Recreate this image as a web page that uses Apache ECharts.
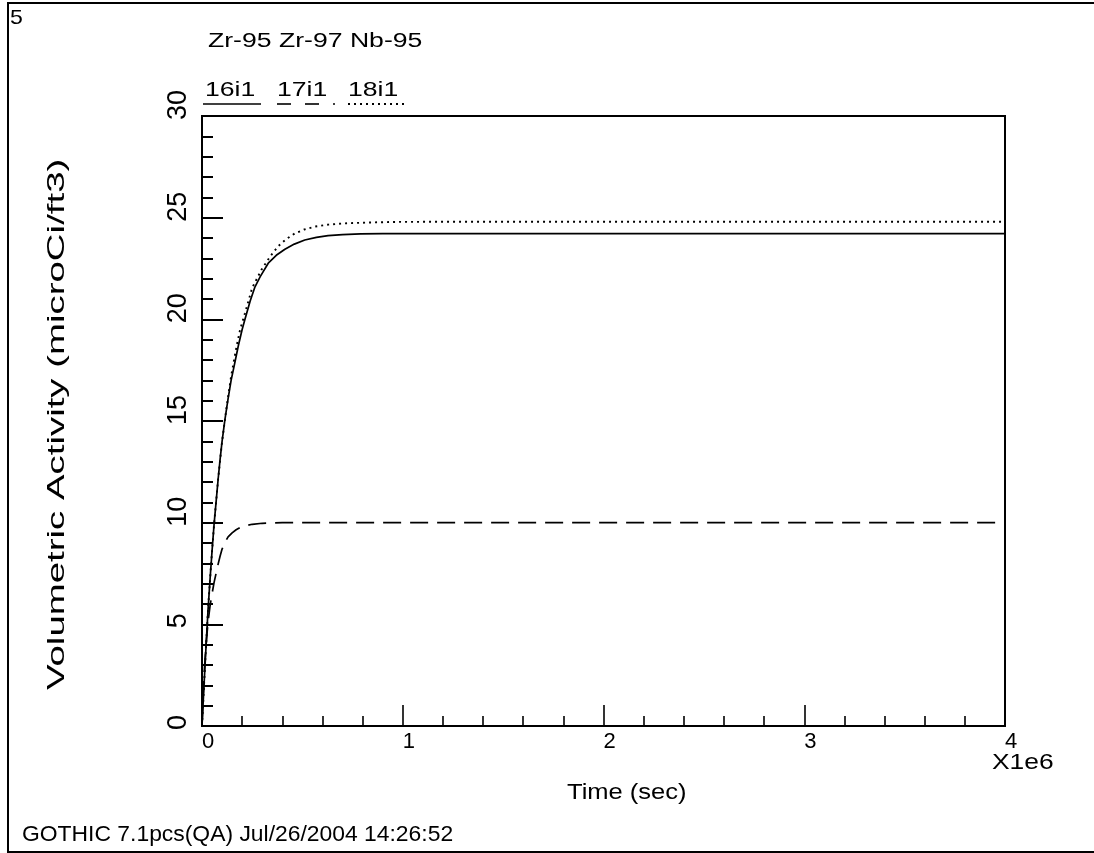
<!DOCTYPE html>
<html>
<head>
<meta charset="utf-8">
<script src="https://cdn.jsdelivr.net/npm/echarts@6/dist/echarts.min.js"></script>
<style>
  html, body { margin: 0; padding: 0; background: #fff; }
  #chart { width: 1094px; height: 853px; }
</style>
</head>
<body>
<div id="chart"></div>
<script>
// Volumetric activity of the three nuclide groups (time in units of 1e6 s, activity in microCi/ft3)
const t16 = [0, 0.01, 0.02, 0.03, 0.04, 0.05, 0.06, 0.07, 0.08, 0.09, 0.10, 0.114, 0.13, 0.145, 0.16, 0.181, 0.20, 0.214, 0.24, 0.264, 0.29, 0.33, 0.37, 0.413, 0.46, 0.512, 0.57, 0.628, 0.70, 0.79, 0.90, 1.0, 2.0, 3.0, 4.0];
const v16 = [0, 2.0, 3.9, 5.7, 7.2, 8.6, 9.9, 11.0, 12.1, 13.1, 14.0, 15.05, 16.1, 17.0, 17.7, 18.7, 19.5, 20.0, 20.9, 21.6, 22.1, 22.76, 23.15, 23.45, 23.7, 23.9, 24.03, 24.12, 24.17, 24.2, 24.22, 24.22, 24.22, 24.22, 24.22];

const t17 = [0, 0.005, 0.01, 0.02, 0.03, 0.04, 0.05, 0.06, 0.07, 0.08, 0.09, 0.10, 0.115, 0.13, 0.15, 0.17, 0.19, 0.214, 0.25, 0.30, 0.40, 1.0, 2.0, 3.0, 4.0];
const v17 = [0, 1.3, 2.5, 4.0, 5.1, 5.9, 6.5, 7.05, 7.5, 7.95, 8.35, 8.7, 9.05, 9.3, 9.5, 9.65, 9.76, 9.84, 9.92, 9.97, 10.0, 10.0, 10.0, 10.0, 10.0];

const t18 = [0, 0.01, 0.02, 0.03, 0.04, 0.05, 0.06, 0.08, 0.10, 0.12, 0.145, 0.172, 0.19, 0.214, 0.25, 0.297, 0.34, 0.38, 0.42, 0.463, 0.51, 0.562, 0.63, 0.71, 0.82, 0.96, 1.2, 2.0, 3.0, 4.0];
const v18 = [0, 2.0, 3.9, 5.7, 7.2, 8.6, 9.9, 12.1, 14.0, 15.5, 17.2, 18.66, 19.5, 20.3, 21.55, 22.45, 23.1, 23.6, 23.95, 24.23, 24.42, 24.56, 24.66, 24.72, 24.76, 24.79, 24.8, 24.8, 24.8, 24.8];

const seriesNames = ['16i1', '17i1', '18i1'];
const xTicks = [0, 1, 2, 3, 4];
const yTicks = [0, 5, 10, 15, 20, 25, 30];

const FONT = "'Liberation Sans', Arial, Helvetica, sans-serif";

function pairs(ts, vs) { return ts.map((t, i) => [t, vs[i]]); }

const chart = echarts.init(document.getElementById('chart'), null, { renderer: 'canvas' });

// wide plotter-style lettering: plain text stretched along its baseline
function txt(text, x, y, size, sx, extra) {
  return Object.assign({
    type: 'text', x: x, y: y, scaleX: sx, scaleY: 1,
    style: { text: text, fontFamily: FONT, fontSize: size, fill: '#000', align: 'left', verticalAlign: 'middle' }
  }, extra || {});
}

const option = {
  animation: false,
  backgroundColor: '#fff',
  grid: { left: 202, right: 89, top: 116, bottom: 127, show: true, borderColor: '#000', borderWidth: 2, backgroundColor: 'transparent' },
  xAxis: {
    type: 'value', min: xTicks[0], max: xTicks[xTicks.length - 1], interval: xTicks[1] - xTicks[0],
    axisLine: { lineStyle: { color: '#000', width: 2 } },
    axisTick: { inside: true, length: 21, lineStyle: { color: '#000', width: 1.6 } },
    minorTick: { show: true, splitNumber: 5, length: 10, lineStyle: { color: '#000', width: 1.6 } },
    splitLine: { show: false },
    axisLabel: { color: '#000', fontFamily: FONT, fontSize: 22, margin: 5, align: 'left' }
  },
  yAxis: {
    type: 'value', min: yTicks[0], max: yTicks[yTicks.length - 1], interval: yTicks[1] - yTicks[0],
    axisLine: { lineStyle: { color: '#000', width: 2 } },
    axisTick: { inside: true, length: 21, lineStyle: { color: '#000', width: 2 } },
    minorTick: { show: true, splitNumber: 5, length: 11, lineStyle: { color: '#000', width: 2 } },
    splitLine: { show: false },
    axisLabel: { color: '#000', fontFamily: FONT, fontSize: 27, margin: 10, rotate: 90, align: 'left', padding: [0, 0, 0, -4] }
  },
  series: [
    { name: seriesNames[0], type: 'line', data: pairs(t16, v16), showSymbol: false, smooth: false,
      lineStyle: { color: '#000', width: 1.7, type: 'solid' } },
    { name: seriesNames[1], type: 'line', data: pairs(t17, v17), showSymbol: false, smooth: false,
      lineStyle: { color: '#000', width: 1.7, type: [18, 9] } },
    { name: seriesNames[2], type: 'line', data: pairs(t18, v18), showSymbol: false, smooth: false,
      lineStyle: { color: '#000', width: 1.9, type: [2, 4] } }
  ],
  graphic: [
    // page frame
    { type: 'polyline', shape: { points: [[1100, 3], [8, 3], [8, 852], [1100, 852]] }, style: { stroke: '#000', lineWidth: 2, fill: null } },
    txt('5', 10, 18, 21, 1.1),
    txt('Zr-95 Zr-97 Nb-95', 208, 41, 20, 1.33),
    // legend labels and keys
    txt(seriesNames[0], 205, 90, 20, 1.33),
    txt(seriesNames[1], 277, 90, 20, 1.33),
    txt(seriesNames[2], 348, 90, 20, 1.33),
    { type: 'line', shape: { x1: 203, y1: 104, x2: 261, y2: 104 }, style: { stroke: '#000', lineWidth: 1.6 } },
    { type: 'line', shape: { x1: 277, y1: 104, x2: 335, y2: 104 }, style: { stroke: '#000', lineWidth: 1.6, lineDash: [14, 14] } },
    { type: 'line', shape: { x1: 348, y1: 104, x2: 407, y2: 104 }, style: { stroke: '#000', lineWidth: 1.8, lineDash: [2, 4] } },
    // axis names
    txt('X1e6', 992, 763, 22, 1.2),
    txt('Time (sec)', 567, 793, 22, 1.16),
    txt('Volumetric Activity (microCi/ft3)', 57, 690, 24, 1.6, { rotation: Math.PI / 2 }),
    txt('GOTHIC 7.1pcs(QA) Jul/26/2004 14:26:52', 22, 835, 22, 1.04)
  ]
};

chart.setOption(option);
</script>
</body>
</html>
